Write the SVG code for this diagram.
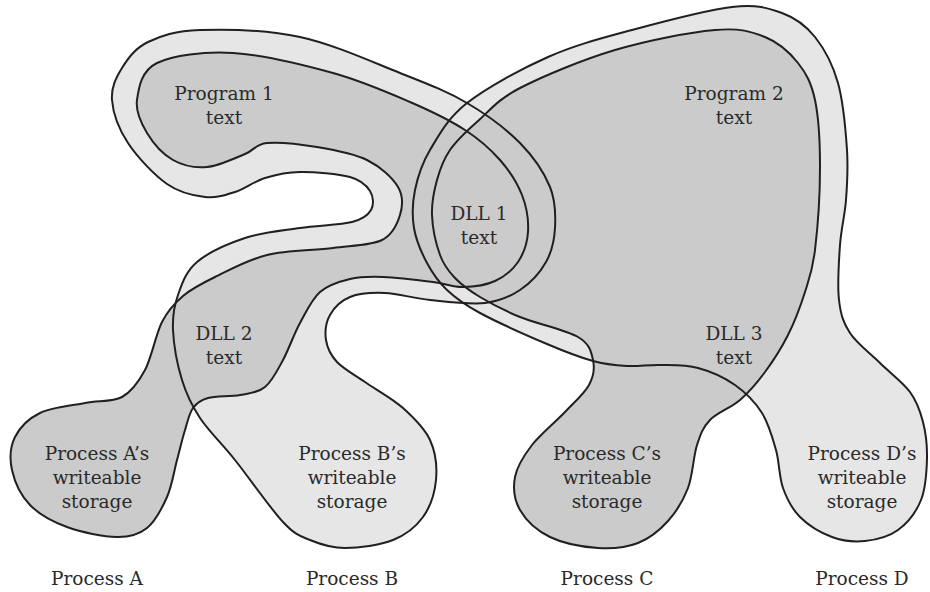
<svg xmlns="http://www.w3.org/2000/svg" xmlns:xlink="http://www.w3.org/1999/xlink" width="930" height="592" viewBox="0 0 930 592">
<style>
.light{fill:#e6e6e6;stroke:none}
.dark{fill:#cbcbcb;stroke:none}
.edge{fill:none;stroke:#231f20;stroke-width:2;stroke-linejoin:round}
text{font-family:"DejaVu Serif","Liberation Serif",serif;font-size:18.5px;fill:#2a2a2a;text-anchor:middle}
</style>
<defs>
<path id="pB" d="M200,30 C225.3,29.2 266.7,29.8 300,37 S372.2,62 400,73 S447,91.3 467,103 S506.2,129 520,143 S544.2,172.8 550,187 S555.7,215.5 555,228 S551.8,251.7 546,262 S530.2,283.2 520,290 S500,301.3 485,303 S446.7,301.7 430,300 S398.3,293.5 385,293 S359.2,293.3 350,297 S334,307.8 330,315 S324.8,332.2 326,340 S330.5,355 337,362 S354,374.3 365,382 S392.2,398.3 403,408 S424.5,428 430,440 S437.2,467.2 436,480 S430.2,507 423,517 S406,534.8 393,540 S358.8,548 345,548 S320.3,544.3 310,540 S295.5,535.3 283,522 S248.8,477.3 235,460 S208.8,431.3 200,418 S186.5,394.7 182,380 S173.7,344.2 173,330 S174,306.3 178,295 S185.8,271.5 197,262 S227.8,243.7 245,238 S282.2,230.7 300,228 S340.2,225 352,222 S368,215.2 371,210 S373.5,196.5 370,191 S361.7,180.2 350,177 S314.2,171.8 300,172 S275.8,174.7 265,178 S245,188.8 235,192 S216.3,198.3 205,197 S179.8,193 167,184 S137.2,157 128,143 S113,112.5 112,100 S116,77.7 122,68 S135,48.3 148,42 S174.7,30.8 200,30 Z"/>
<path id="pA" d="M233,53 C262.3,54.7 303.5,64.8 333,73 S388,92.5 410,102 S450,120.3 465,130 S490.5,149.2 500,160 S517.3,183 522,195 S528.7,220.8 528,232 S523.5,253.8 518,262 S504.2,276.8 495,281 S473.3,286.8 463,287 S446.3,283.7 433,282 S396.8,277.5 383,277 S360.5,276.5 350,279 S328.3,284.7 320,292 S306.2,311.7 300,323 S288.8,349.3 283,360 S272.2,381.2 265,387 S249.5,393.2 240,395 S215.8,395.8 208,398 S196.8,402.7 193,408 S187.7,421.3 185,430 S180,448.8 177,460 S172,485.7 167,497 S155.3,521.3 147,528 S130.3,537.2 117,537 S81.5,532.3 67,527 S39.2,514.5 30,505 S14.5,481.3 12,470 S10.3,446.5 15,437 S28.3,418.7 40,413 S71.3,405.7 85,403 S112,402.5 122,397 S138.3,382.5 145,370 S155.7,334.3 162,322 S174.2,303.5 183,296 S201,283.8 215,277 S247.3,259.8 267,255 S313.8,250.5 333,248 S370.8,245.5 382,240 S397.3,223.8 400,215 S403.5,196.2 398,187 S380.5,166.7 367,160 S333.7,149.8 317,147 S279,141.8 267,143 S255,150 245,154 S219,166 207,167 S183,165.7 173,160 S153,143 147,133 S135.3,111.7 137,100 S141,70.8 157,63 S203.7,51.3 233,53 Z"/>
<path id="pD" d="M732,7 C757,4.2 768.2,8 782,13 S805.7,25.3 815,37 S832.7,64.2 838,83 S845.7,130.5 847,150 S847.2,184.2 846,200 S841.2,228.3 840,245 S837.3,285.3 839,300 S843.2,322.5 850,333 S870,353.2 880,363 S902.8,382.2 910,392 S920.2,411 923,422 S927.3,445 927,458 S925.8,488 921,500 S907.3,523.2 898,530 S876,539.8 865,541 S842.8,541 832,537 S808.2,525.2 800,517 S787,499.2 783,488 S779.5,462.5 776,450 S768.8,423.8 762,413 S745.7,392.5 735,385 S710.5,371.3 698,368 S671.8,365.3 660,365 S638.2,366.7 627,366 S606.3,364.7 593,361 S565.8,352 547,344 S496.7,322 480,313 S455.8,298.3 447,290 S432.5,273.3 427,263 S416,240.2 414,228 S412.3,203 415,190 S421.3,164.5 430,150 S447.3,118.5 467,103 S520.5,69.2 548,57 S601.3,38.3 632,30 S707,9.8 732,7 Z"/>
<path id="pC" d="M715,30 C740,27.8 751.2,31.5 765,37 S789.7,52.5 798,63 S811.3,82.7 815,100 S820,142 820,167 S817.5,229.2 815,250 S809.5,277.8 805,292 S794.7,321.7 788,335 S773,361.2 765,372 S749.2,392 740,400 S717.2,412.5 710,420 S700.7,433.7 697,445 S692.8,475.3 688,488 S676.3,511.8 668,521 S649.7,538.5 638,543 S612.7,549 598,548 S563,543.3 550,537 S525.8,520 520,510 S513,487.8 515,477 S523.7,455.8 532,445 S555.5,422 565,412 S584.3,393.7 589,385 S594.8,368 593,360 S590.2,344.2 578,337 S536.3,323.7 520,317 S490.8,303.5 480,297 S461.7,285 455,278 S443.8,265.5 440,255 S432.5,227.5 432,215 S434,190.8 437,180 S443.2,159.8 450,150 S466.3,131.3 478,121 S497.2,99.8 520,88 S582.5,59.7 615,50 S690,32.2 715,30 Z"/>
</defs>
<g id="process-b-space"><use xlink:href="#pB" href="#pB" class="light"/></g>
<g id="process-d-space"><use xlink:href="#pD" href="#pD" class="light"/></g>
<g id="process-a-space"><use xlink:href="#pA" href="#pA" class="dark"/></g>
<g id="process-c-space"><use xlink:href="#pC" href="#pC" class="dark"/></g>
<g id="connectors">
<use xlink:href="#pB" href="#pB" class="edge"/>
<use xlink:href="#pD" href="#pD" class="edge"/>
<use xlink:href="#pA" href="#pA" class="edge"/>
<use xlink:href="#pC" href="#pC" class="edge"/>
</g>
<g id="program1-text"><text x="224" y="100">Program 1</text><text x="224" y="124">text</text></g>
<g id="program2-text"><text x="734" y="100">Program 2</text><text x="734" y="124">text</text></g>
<g id="dll1-text"><text x="479" y="220">DLL 1</text><text x="479" y="244">text</text></g>
<g id="dll2-text"><text x="224" y="340">DLL 2</text><text x="224" y="364">text</text></g>
<g id="dll3-text"><text x="734" y="340">DLL 3</text><text x="734" y="364">text</text></g>
<g id="a-storage"><text x="97" y="460">Process A’s</text><text x="97" y="484">writeable</text><text x="97" y="508">storage</text></g>
<g id="b-storage"><text x="352" y="460">Process B’s</text><text x="352" y="484">writeable</text><text x="352" y="508">storage</text></g>
<g id="c-storage"><text x="607" y="460">Process C’s</text><text x="607" y="484">writeable</text><text x="607" y="508">storage</text></g>
<g id="d-storage"><text x="862" y="460">Process D’s</text><text x="862" y="484">writeable</text><text x="862" y="508">storage</text></g>
<g id="process-a"><text x="97" y="585">Process A</text></g>
<g id="process-b"><text x="352" y="585">Process B</text></g>
<g id="process-c"><text x="607" y="585">Process C</text></g>
<g id="process-d"><text x="862" y="585">Process D</text></g>
</svg>
